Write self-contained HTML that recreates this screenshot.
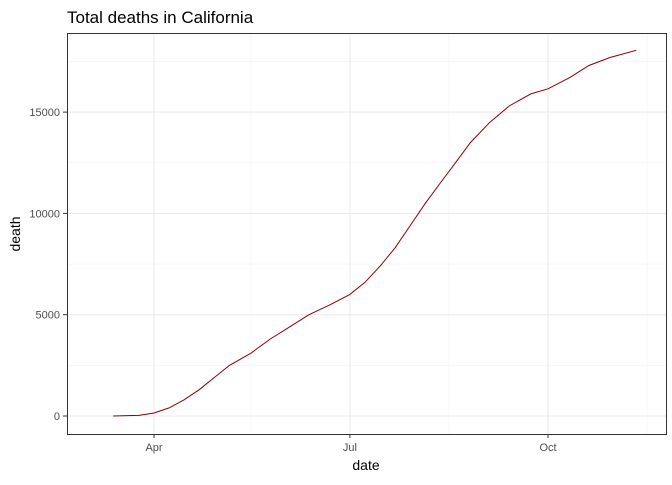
<!DOCTYPE html>
<html><head><meta charset="utf-8"><style>
body{margin:0;background:#fff}
text{font-family:"Liberation Sans",Arial,sans-serif}
</style></head><body>
<svg id="c" width="672" height="480" xmlns="http://www.w3.org/2000/svg">
<text x="67" y="23" font-size="17" fill="#000">Total deaths in California</text>
<g id="grid"></g>
<g id="axes"></g>
<path id="line" fill="none" stroke="#8B0000" stroke-width="1"/>
<rect x="67.5" y="33.5" width="599" height="401" fill="none" stroke="#333" stroke-width="1"/>
<text x="366" y="470" font-size="14" text-anchor="middle">date</text>
<text transform="translate(20,234) rotate(-90)" font-size="14" text-anchor="middle">death</text>
</svg>
<script>
const dates=["2020-03-13","2020-03-25","2020-04-01","2020-04-08","2020-04-15","2020-04-22","2020-04-29","2020-05-06","2020-05-16","2020-05-25","2020-06-03","2020-06-12","2020-06-22","2020-07-01","2020-07-08","2020-07-15","2020-07-22","2020-07-29","2020-08-05","2020-08-12","2020-08-19","2020-08-26","2020-09-04","2020-09-13","2020-09-23","2020-10-01","2020-10-11","2020-10-20","2020-10-30","2020-11-11"];
const deaths=[0,30,150,400,800,1300,1900,2500,3100,3800,4400,5000,5500,6000,6600,7400,8300,9400,10500,11500,12500,13500,14500,15300,15900,16150,16700,17300,17700,18050];
const yTicks=[0,5000,10000,15000];
const yMinor=[2500,7500,12500,17500];
const xTickLabels=["Apr","Jul","Oct"];
const xTickDates=["2020-04-01","2020-07-01","2020-10-01"];
const xMinorDates=["2020-02-15","2020-05-16","2020-08-16","2020-11-16"];
const ns="http://www.w3.org/2000/svg";
const t0=Date.parse("2020-04-01");
function X(d){return 154+((Date.parse(d)-t0)/864e5)*(394/183);}
function Y(v){return 416-v*0.02026;}
const grid=document.getElementById('grid'),axes=document.getElementById('axes');
function ln(p,x1,y1,x2,y2,c,w){const l=document.createElementNS(ns,'line');l.setAttribute('x1',x1);l.setAttribute('y1',y1);l.setAttribute('x2',x2);l.setAttribute('y2',y2);l.setAttribute('stroke',c);l.setAttribute('stroke-width',w);p.appendChild(l);return l;}
yMinor.forEach(v=>{const l=ln(grid,67,Y(v),666,Y(v),'#f2f2f2',0.6);

});
xMinorDates.forEach(d=>{const x=X(d);if(x<67||x>666)return;const l=ln(grid,x,33,x,434,'#f2f2f2',0.6);

});
yTicks.forEach(v=>{const y=Y(v);const g=ln(grid,67,y,666,y,'#ebebeb',1.1);


ln(axes,63,y,67,y,'#333',1);
const t=document.createElementNS(ns,'text');t.setAttribute('x',60);t.setAttribute('y',y+4);t.setAttribute('text-anchor','end');t.setAttribute('font-size','11');t.setAttribute('fill','#4d4d4d');t.textContent=v;


axes.appendChild(t);});
xTickDates.forEach((d,i)=>{const x=X(d);const g=ln(grid,x,33,x,434,'#ebebeb',1.1);


ln(axes,x,434,x,438,'#333',1);
const t=document.createElementNS(ns,'text');t.setAttribute('x',x);t.setAttribute('y',451);t.setAttribute('text-anchor','middle');t.setAttribute('font-size','11');t.setAttribute('fill','#4d4d4d');t.textContent=xTickLabels[i];


axes.appendChild(t);});
document.getElementById('line').setAttribute('d',dates.map((d,i)=>(i?'L':'M')+X(d).toFixed(1)+','+Y(deaths[i]).toFixed(1)).join(''));
</script>
</body></html>
